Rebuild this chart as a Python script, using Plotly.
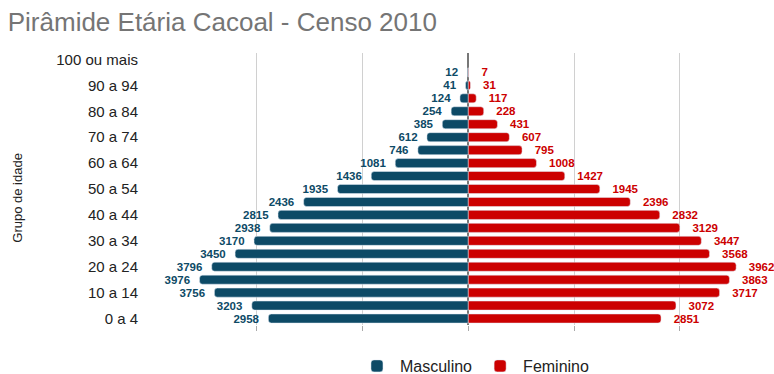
import plotly.graph_objects as go

categories = ["0 a 4", "5 a 9", "10 a 14", "15 a 19", "20 a 24", "25 a 29", "30 a 34",
              "35 a 39", "40 a 44", "45 a 49", "50 a 54", "55 a 59", "60 a 64", "65 a 69",
              "70 a 74", "75 a 79", "80 a 84", "85 a 89", "90 a 94", "95 a 99", "100 ou mais"]
masculino = [2958, 3203, 3756, 3976, 3796, 3450, 3170, 2938, 2815, 2436, 1935, 1436,
             1081, 746, 612, 385, 254, 124, 41, 12, None]
feminino = [2851, 3072, 3717, 3863, 3962, 3568, 3447, 3129, 2832, 2396, 1945, 1427,
            1008, 795, 607, 431, 228, 117, 31, 7, None]
tick_labels = categories[::2]

BLUE = "#0d4a66"
RED = "#cc0000"
NB = "\u00a0"

fig = go.Figure()
fig.add_trace(go.Bar(
    y=categories, x=[(-v if v is not None else None) for v in masculino],
    orientation="h", name="Masculino", marker=dict(color=BLUE, cornerradius=3),
    text=[(str(v) + NB * 2 if v is not None else "") for v in masculino],
    textposition="outside", cliponaxis=False, constraintext="none",
    textfont=dict(family="Liberation Sans", size=11.5, color=BLUE, weight="bold"),
    hoverinfo="skip",
))
fig.add_trace(go.Bar(
    y=categories, x=feminino,
    orientation="h", name="Feminino", marker=dict(color=RED, cornerradius=3),
    text=[(NB * 3 + str(v) if v is not None else "") for v in feminino],
    textposition="outside", cliponaxis=False, constraintext="none",
    textfont=dict(family="Liberation Sans", size=11.5, color=RED, weight="bold"),
    hoverinfo="skip",
))

fig.update_layout(
    width=774, height=374,
    margin=dict(l=150, r=0, t=53, b=49),
    paper_bgcolor="white", plot_bgcolor="white",
    barmode="overlay", bargap=0.3,
    font=dict(family="Liberation Sans", color="#222222"),
    title=dict(text="Pirâmide Etária Cacoal - Censo 2010",
               font=dict(family="Liberation Sans", size=26, color="#757575"),
               xref="container", x=0.01, xanchor="left",
               yref="container", y=1 - 22 / 374, yanchor="middle"),
    showlegend=True,
    legend=dict(orientation="h", xref="paper", x=0.52, xanchor="center",
                yref="container", y=1 - 366 / 374, yanchor="middle",
                font=dict(size=16, color="#222222"), traceorder="normal",
                bgcolor="rgba(0,0,0,0)", itemwidth=36),
)
fig.update_xaxes(range=[-4709, 4522], tickvals=[-3130, -1565, 0, 1565, 3130],
                 showticklabels=False, showgrid=True, gridcolor="#d0d0d0", gridwidth=1,
                 zeroline=True, zerolinecolor="#777777", zerolinewidth=1.5,
                 ticks="outside", ticklen=5, tickcolor="#aaaaaa", showline=False)
fig.update_yaxes(type="category", categoryorder="array", categoryarray=categories,
                 tickvals=tick_labels, ticktext=tick_labels,
                 tickfont=dict(size=15, color="#222222"),
                 ticks="outside", ticklen=8, tickcolor="rgba(0,0,0,0)",
                 showgrid=False, zeroline=False, showline=False)
fig.add_annotation(text="Grupo de idade", textangle=-90, xref="paper", yref="paper",
                   x=(18 - 150) / 624, y=0.468, xanchor="center", yanchor="middle",
                   showarrow=False, font=dict(size=13, color="#222222"))

fig.write_html("out.html")
